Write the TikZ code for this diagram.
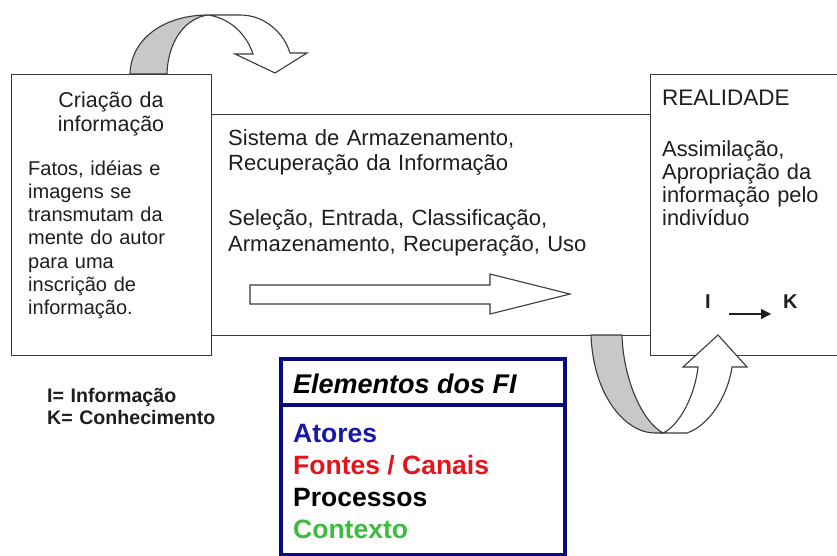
\documentclass[tikz,border=0pt]{standalone}
\usepackage{fontspec}
\setmainfont{Liberation Sans}
\usetikzlibrary{arrows.meta}
\definecolor{edge}{HTML}{3A3A3A}
\definecolor{band}{HTML}{C8C8C8}
\definecolor{navy}{HTML}{0A0A80}
\definecolor{ablue}{HTML}{1818A8}
\definecolor{ared}{HTML}{E3141B}
\definecolor{agreen}{HTML}{3DBB3D}
\definecolor{ink}{HTML}{1E1E1E}
\tikzset{
  panel/.style={draw=edge, line width=1.4pt, fill=white, inner sep=0pt, anchor=north west},
  shadeband/.style={draw=edge, line width=1.1pt, fill=band, line join=round},
  frontband/.style={draw=edge, line width=1.1pt, fill=white, line join=miter},
  txt/.style={anchor=base west, inner sep=0pt, align=left, text width=#1, text=ink},
  item/.style={anchor=base west, inner sep=0pt, font=\fontsize{26.5}{30}\selectfont\bfseries},
}
\begin{document}
\begin{tikzpicture}[x=1pt,y=-1pt]
\useasboundingbox (0,0) rectangle (837,555);
\clip (0,0) rectangle (837,555);
\fill[white] (0,0) rectangle (837,555);

% middle system box
\node[panel, minimum width=439pt, minimum height=221pt] (sistema) at (211,114) {};

% top curved arrow (back part, grey)
\draw[shadeband] (130,74) .. controls (131,38) and (165,15) .. (208,15)
  .. controls (186,18) and (168,40) .. (167,74) -- cycle;
% top curved arrow (front part, white)
\draw[frontband] (208,15) -- (240,15) .. controls (265,15) and (284,33) .. (290,53)
  -- (307,53) -- (275,73) -- (235,54) -- (253,54)
  .. controls (246,33) and (229,18) .. (208,15) -- cycle;

% left and right boxes
\node[panel, minimum width=200pt, minimum height=281pt] (criacao) at (11,74) {};
\node[panel, minimum width=200pt, minimum height=281pt] (realidade) at (650,74) {};

% bottom curved arrow
\draw[shadeband] (591,335) .. controls (593,395) and (625,433) .. (655,433)
  -- (663,433) .. controls (640,420) and (623,375) .. (622,335) -- cycle;
\draw[frontband] (663,433) -- (687,433) .. controls (710,425) and (728,395) .. (732,367)
  -- (747,367) -- (718,335) -- (683,367) -- (698,367)
  .. controls (695,395) and (680,425) .. (663,433) -- cycle;

% big hollow arrow
\draw[frontband] (250,285) -- (490,285) -- (490,274) -- (570,294) -- (490,314)
  -- (490,304) -- (250,304) -- cycle;

% texts left box
\node[anchor=base, inner sep=0pt, align=center, text width=190pt, text=ink,
  font=\fontsize{21.5}{24}\selectfont] (titcri) at (111,107) {Criação da\\informação};
\node[txt=185pt, font=\fontsize{20}{23.3}\selectfont] (fatos) at (28,175)
  {Fatos, idéias e\\imagens se\\transmutam da\\mente do autor\\para uma\\inscrição de\\informação.};

% texts middle box
\node[txt=410pt, font=\fontsize{22}{25.5}\selectfont] (sis1) at (228,145)
  {Sistema de Armazenamento,\\Recuperação da Informação};
\node[txt=410pt, font=\fontsize{22}{26.5}\selectfont] (sis2) at (228,225)
  {Seleção, Entrada, Classificação,\\Armazenamento, Recuperação, Uso};

% texts right box
\node[txt=180pt, font=\fontsize{22.5}{24}\selectfont] (real) at (662,105) {REALIDADE};
\node[txt=180pt, font=\fontsize{21.8}{23}\selectfont] (assim) at (662,156)
  {Assimilação,\\Apropriação da\\informação pelo\\indivíduo};

% I -> K
\node[anchor=base west, inner sep=0pt, font=\fontsize{20}{24}\selectfont\bfseries, text=ink] (infI) at (705,308) {I};
\node[anchor=base west, inner sep=0pt, font=\fontsize{20}{24}\selectfont\bfseries, text=ink] (infK) at (783,308) {K};
\coordinate (ikA) at ([xshift=18pt,yshift=-6pt]infI.base east);
\coordinate (ikB) at ([xshift=-12pt,yshift=-6pt]infK.base west);
\draw[ink, line width=1.3pt, -{Triangle[length=10pt,width=10pt]}] (ikA) -- (ikB);

% legend
\node[txt=200pt, font=\fontsize{19.6}{22}\selectfont\bfseries] (legenda) at (47,402)
  {I= Informação\\K= Conhecimento};

% Elementos box
\node[draw=navy, line width=3.5pt, fill=white, inner sep=0pt, anchor=north west,
  minimum width=284pt, minimum height=196pt] (elem) at (279,357) {};
\draw[navy, line width=3.5pt] (elem.west |- 0,405) -- (elem.east |- 0,405);
\node[anchor=base west, inner sep=0pt, font=\fontsize{27}{30}\selectfont\bfseries\itshape] (elemtit) at (293,393) {Elementos dos FI};
\node[item, text=ablue] (atores) at (293,442) {Atores};
\node[item, text=ared] (fontes) at (293,474) {Fontes / Canais};
\node[item, text=black] (proc) at (293,506) {Processos};
\node[item, text=agreen] (cont) at (293,538) {Contexto};
\end{tikzpicture}
\end{document}
